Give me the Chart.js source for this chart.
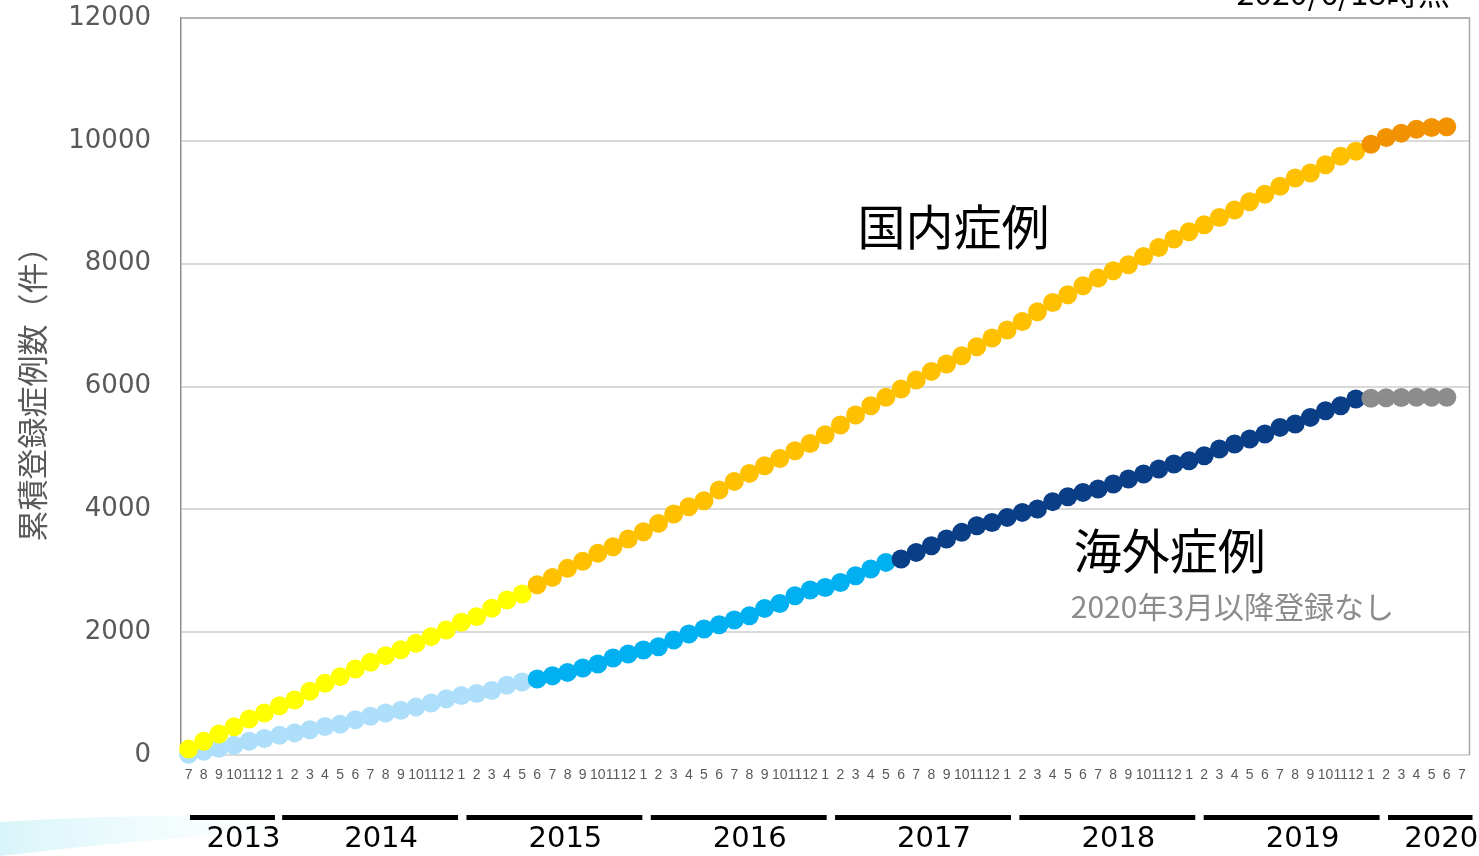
<!DOCTYPE html>
<html>
<head>
<meta charset="utf-8">
<script src="https://cdn.jsdelivr.net/npm/chart.js@4.4.1/dist/chart.umd.min.js"></script>
<style>
  html, body { margin: 0; padding: 0; background: #fff; }
  #chart { display: block; }
</style>
</head>
<body>
<canvas id="chart" width="1479" height="856"></canvas>
<script>
// month tick labels, 2013/7 .. 2020/7
const monthLabels = [
  "7", "8", "9", "10", "11", "12",
  "1", "2", "3", "4", "5", "6", "7", "8", "9", "10", "11", "12",
  "1", "2", "3", "4", "5", "6", "7", "8", "9", "10", "11", "12",
  "1", "2", "3", "4", "5", "6", "7", "8", "9", "10", "11", "12",
  "1", "2", "3", "4", "5", "6", "7", "8", "9", "10", "11", "12",
  "1", "2", "3", "4", "5", "6", "7", "8", "9", "10", "11", "12",
  "1", "2", "3", "4", "5", "6", "7", "8", "9", "10", "11", "12",
  "1", "2", "3", "4", "5", "6", "7"
];
const yearLabels = ["2013", "2014", "2015", "2016", "2017", "2018", "2019", "2020"];

// cumulative registered cases
const domesticCases = [
  98, 223, 342, 461, 586, 684, 803, 896, 1037, 1167, 1276, 1400, 1509, 1618, 1715, 1819,
  1927, 2036, 2160, 2253, 2389, 2524, 2622,
  2773, 2892, 3039, 3153, 3283, 3392, 3517, 3636, 3771, 3924, 4043, 4140, 4315, 4455,
  4585, 4710, 4829, 4954, 5073, 5215, 5372, 5535,
  5687, 5823, 5959, 6105, 6246, 6366, 6501, 6648, 6789, 6919, 7059, 7217, 7369, 7494,
  7640, 7766, 7885, 7982, 8118, 8264, 8401, 8520, 8634, 8753, 8873, 9008,
  9130, 9260, 9395, 9477, 9612, 9748, 9830,
  9945, 10055, 10125, 10190, 10217, 10228
];
const overseasCases = [
  10, 60, 110, 160, 225, 270, 320, 360, 410, 465, 500, 575, 630, 685, 730, 780,
  845, 915, 970, 1000, 1050, 1135, 1190,
  1237, 1291, 1345, 1416, 1481, 1579, 1644, 1709, 1763, 1872, 1970, 2051, 2121, 2198,
  2268, 2387, 2468, 2593, 2686, 2728, 2810, 2919, 3028, 3136,
  3191, 3299, 3408, 3517, 3625, 3733, 3787, 3869, 3950, 4005, 4125, 4206, 4276, 4330,
  4412, 4493, 4575, 4656, 4738, 4792, 4873, 4982, 5063, 5145, 5226, 5334, 5389, 5497,
  5606, 5687, 5796,
  5810, 5818, 5822, 5825, 5825, 5825
];

// index where each colour phase starts
const domesticPhaseStart = [0, 23, 78];
const overseasPhaseStart = [0, 23, 47, 78];
const domesticPhaseColors = ["#FFFF00", "#FFC000", "#F39200"];
const overseasPhaseColors = ["#ADDFFB", "#00B0F0", "#0A3F88", "#8C8C8C"];

function phaseColors(values, starts, colors) {
    return values.map((v, i) => {
        let c = colors[0];
        starts.forEach((s, k) => { if (i >= s) c = colors[k]; });
        return c;
    });
}

const PLOT_LEFT = 181, PLOT_TOP = 18, PLOT_BOTTOM = 755, X_AXIS_H = 30;
const GREY_TEXT = "#595959";
const CJK = "'Noto Sans CJK JP', 'Noto Sans', sans-serif";

const decor = {
    id: "decor",
    beforeDraw(chart) {
        const ctx = chart.ctx;
        ctx.save();
        ctx.fillStyle = "#fff";
        ctx.fillRect(0, 0, chart.width, chart.height);
        // faint swoosh in the bottom-left corner
        const g = ctx.createLinearGradient(0, 0, 300, 0);
        g.addColorStop(0, "rgba(190,238,246,0.6)");
        g.addColorStop(1, "rgba(220,248,252,0)");
        ctx.fillStyle = g;
        ctx.beginPath();
        ctx.moveTo(0, 822);
        ctx.quadraticCurveTo(160, 812, 300, 818);
        ctx.lineTo(300, 830);
        ctx.quadraticCurveTo(150, 838, 0, 856);
        ctx.closePath();
        ctx.fill();
        ctx.restore();
    },
    beforeDatasetsDraw(chart) {
        const { ctx, chartArea: a } = chart;
        ctx.save();
        ctx.strokeStyle = "#a6a6a6";
        ctx.lineWidth = 1.5;
        ctx.beginPath();
        ctx.moveTo(a.left, a.top);
        ctx.lineTo(a.right, a.top);
        ctx.lineTo(a.right, a.bottom);
        ctx.stroke();
        ctx.restore();
    },
    afterDraw(chart) {
        const { ctx, chartArea: a } = chart;
        const x = chart.scales.x, y = chart.scales.y;
        const step = x.getPixelForValue(1) - x.getPixelForValue(0);

        // year bars under the month ticks
        const starts = [0];
        monthLabels.forEach((m, i) => { if (m === "1") starts.push(i); });
        ctx.save();
        starts.forEach((first, k) => {
            const last = (k + 1 < starts.length ? starts[k + 1] : monthLabels.length) - 1;
            const drift = 0.2 * first;
            const x0 = x.getPixelForValue(first) - step / 2 + 9 + drift;
            const x1 = Math.min(x.getPixelForValue(last) + step / 2 + 3 + drift, a.right + 3);
            ctx.fillStyle = "#000";
            ctx.fillRect(x0, 815, x1 - x0, 5);
            ctx.font = "29px 'DejaVu Sans', sans-serif";
            ctx.textAlign = "center";
            ctx.textBaseline = "middle";
            ctx.fillText(yearLabels[k], (x0 + x1) / 2 + 11, 839);
        });

        // series captions
        ctx.fillStyle = "#000";
        ctx.textAlign = "left";
        ctx.textBaseline = "middle";
        ctx.font = "48px " + CJK;
        ctx.fillText("国内症例", x.getPixelForValue(44) + 2, y.getPixelForValue(8600));
        ctx.fillText("海外症例", x.getPixelForValue(58) + 6, y.getPixelForValue(3320));
        ctx.fillStyle = "#8C8C8C";
        ctx.font = "30px " + CJK;
        ctx.fillText("2020年3月以降登録なし", x.getPixelForValue(58) + 3, y.getPixelForValue(2410));

        // date stamp, cut off at the top edge
        ctx.fillStyle = "#000";
        ctx.font = "32px " + CJK;
        ctx.textAlign = "right";
        ctx.textBaseline = "alphabetic";
        ctx.fillText("2020/6/18時点", 1450, 5);
        ctx.restore();
    }
};

new Chart(document.getElementById("chart"), {
    type: "line",
    data: {
        labels: monthLabels,
        datasets: [
            {
                label: "国内症例",
                data: domesticCases,
                showLine: false,
                pointRadius: 9.5,
                pointHoverRadius: 9.5,
                pointBorderWidth: 0,
                pointBackgroundColor: phaseColors(domesticCases, domesticPhaseStart, domesticPhaseColors),
                clip: false,
                order: 0
            },
            {
                label: "海外症例",
                data: overseasCases,
                showLine: false,
                pointRadius: 9.5,
                pointHoverRadius: 9.5,
                pointBorderWidth: 0,
                pointBackgroundColor: phaseColors(overseasCases, overseasPhaseStart, overseasPhaseColors),
                clip: false,
                order: 1
            }
        ]
    },
    options: {
        responsive: false,
        animation: false,
        devicePixelRatio: 1,
        layout: { padding: { left: 0, right: 7, top: PLOT_TOP, bottom: 856 - PLOT_BOTTOM - X_AXIS_H } },
        plugins: { legend: { display: false }, tooltip: { enabled: false } },
        scales: {
            x: {
                offset: true,
                grid: { display: false, drawTicks: false },
                border: { color: "#d9d9d9", width: 2 },
                ticks: {
                    autoSkip: false,
                    maxRotation: 0,
                    minRotation: 0,
                    padding: 12,
                    color: GREY_TEXT,
                    font: { family: "'Liberation Sans Narrow', 'Liberation Sans', sans-serif", size: 14 }
                },
                afterFit: s => { s.height = X_AXIS_H; s.paddingLeft = 0; s.paddingRight = 0; }
            },
            y: {
                min: 0,
                max: 12000,
                grid: { color: "#d9d9d9", lineWidth: 2, drawTicks: false },
                border: { color: "#8c8c8c", width: 1.5 },
                ticks: {
                    stepSize: 2000,
                    padding: 30,
                    color: GREY_TEXT,
                    font: { family: "'DejaVu Sans', sans-serif", size: 26 },
                    callback: v => String(v)
                },
                title: {
                    display: true,
                    text: "累積登録症例数（件）",
                    color: GREY_TEXT,
                    font: { family: CJK, size: 31 },
                    padding: { top: 14, bottom: 0 }
                },
                afterFit: s => { s.width = PLOT_LEFT; s.paddingTop = 0; s.paddingBottom = 0; }
            }
        }
    },
    plugins: [decor]
});
</script>
</body>
</html>
